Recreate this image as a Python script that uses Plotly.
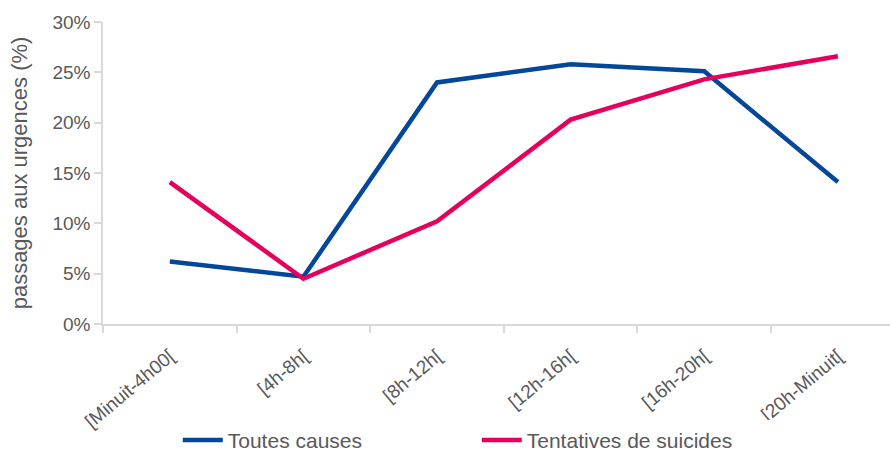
import plotly.graph_objects as go

# Plages horaires d'arrivée aux urgences
categories = ["[Minuit-4h00[", "[4h-8h[", "[8h-12h[", "[12h-16h[", "[16h-20h[", "[20h-Minuit["]
toutes_causes = [6.2, 4.7, 24.0, 25.8, 25.1, 14.1]
tentatives_suicides = [14.1, 4.5, 10.2, 20.3, 24.3, 26.6]
y_ticks = [0, 5, 10, 15, 20, 25, 30]
y_tick_labels = [f"{v}%" for v in y_ticks]

x_pos = list(range(len(categories)))
font_family = "Liberation Sans, Arial, sans-serif"
grey_text = "#595959"
axis_grey = "#d9d9d9"

fig = go.Figure()
fig.add_trace(go.Scatter(
    x=x_pos, y=toutes_causes, mode="lines", name="Toutes causes",
    line=dict(color="#03479A", width=4.5),
))
fig.add_trace(go.Scatter(
    x=x_pos, y=tentatives_suicides, mode="lines", name="Tentatives de suicides",
    line=dict(color="#E6005C", width=4.5),
))

fig.update_layout(
    width=890, height=455,
    margin=dict(l=103, r=0, t=22, b=131, autoexpand=False),
    paper_bgcolor="white", plot_bgcolor="white",
    font=dict(family=font_family, color=grey_text),
    showlegend=True,
    legend=dict(
        orientation="h", x=0.095, xanchor="left", y=-0.385, yanchor="middle",
        font=dict(size=21, color=grey_text), entrywidth=244, entrywidthmode="pixels",
        itemwidth=40,
    ),
)

fig.update_xaxes(
    range=[-0.5, 5.39], automargin=False,
    tickmode="array", tickvals=x_pos, ticktext=categories, tickangle=-40,
    tickfont=dict(size=19, color=grey_text), ticklabelstandoff=12,
    showgrid=False, zeroline=False,
    showline=True, linecolor=axis_grey, linewidth=1.5,
    ticks="",
    minor=dict(tickmode="array", tickvals=[i - 0.5 for i in range(len(categories) + 1)],
               ticks="outside", ticklen=7, tickcolor=axis_grey, tickwidth=1.5),
)
fig.update_yaxes(
    range=[0, 30], automargin=False,
    tickmode="array", tickvals=y_ticks, ticktext=y_tick_labels,
    tickfont=dict(size=19, color=grey_text),
    showgrid=False, zeroline=False,
    showline=True, linecolor=axis_grey, linewidth=1.5,
    ticks="outside", ticklen=7, tickcolor=axis_grey, tickwidth=1.5,
    title=dict(text="passages aux urgences (%)", font=dict(size=22, color=grey_text), standoff=19),
)

fig.write_html("out.html")
